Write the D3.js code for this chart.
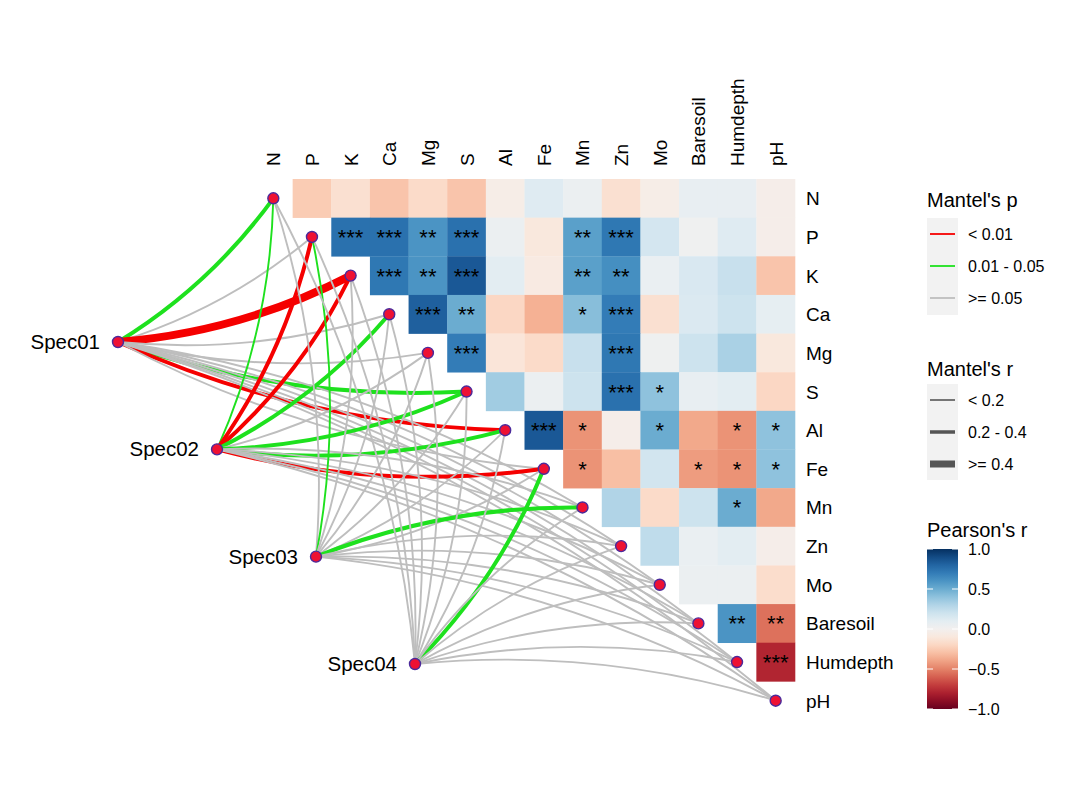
<!DOCTYPE html>
<html><head><meta charset="utf-8">
<script src="https://cdn.jsdelivr.net/npm/d3@7"></script>
<style>
body{margin:0;background:#fff}
text{font-family:Arial,"Liberation Sans",Helvetica,sans-serif;fill:#000}
</style>
</head><body>
<svg id="c" width="1067" height="800"></svg>
<script>
// ---------------- data ----------------
const envNames = ["N","P","K","Ca","Mg","S","Al","Fe","Mn","Zn","Mo","Baresoil","Humdepth","pH"];
// Pearson's r, upper triangle: row i holds values for columns i+1 .. end
const corrN  = [-0.25,-0.15,-0.28,-0.18,-0.28,-0.05,0.12,0.05,-0.15,-0.05,0.07,0.07,-0.04];
const corrP  = [0.75,0.75,0.6,0.75,0.05,-0.1,0.55,0.72,0.17,0.02,0.12,-0.04];
const corrK  = [0.72,0.6,0.85,0.1,-0.08,0.55,0.62,0.06,0.15,0.22,-0.28];
const corrCa = [0.82,0.5,-0.2,-0.35,0.42,0.7,-0.15,0.14,0.2,0.08];
const corrMg = [0.7,-0.12,-0.18,0.22,0.72,0.03,0.2,0.32,-0.1];
const corrS  = [0.35,0.05,0.2,0.75,0.4,0.07,0.1,-0.2];
const corrAl = [0.85,-0.45,-0.04,0.5,-0.38,-0.45,0.4];
const corrFe = [-0.45,-0.3,0.18,-0.42,-0.45,0.4];
const corrMn = [0.3,-0.18,0.2,0.5,-0.38];
const corrZn = [0.25,0.06,0.1,-0.04];
const corrMo = [0.05,0.05,-0.17];
const corrBaresoil = [0.6,-0.55];
const corrHumdepth = [-0.78];
const corrRows = [corrN,corrP,corrK,corrCa,corrMg,corrS,corrAl,corrFe,corrMn,corrZn,corrMo,corrBaresoil,corrHumdepth,[]];
// significance marks, same layout
const starsN  = ["","","","","","","","","","","","",""];
const starsP  = ["***","***","**","***","","","**","***","","","",""];
const starsK  = ["***","**","***","","","**","**","","","",""];
const starsCa = ["***","**","","","*","***","","","",""];
const starsMg = ["***","","","","***","","","",""];
const starsS  = ["","","","***","*","","",""];
const starsAl = ["***","*","","*","","*","*"];
const starsFe = ["*","","","*","*","*"];
const starsMn = ["","","","*",""];
const starsZn = ["","","",""];
const starsMo = ["","",""];
const starsBaresoil = ["**","**"];
const starsHumdepth = ["***"];
const starRows = [starsN,starsP,starsK,starsCa,starsMg,starsS,starsAl,starsFe,starsMn,starsZn,starsMo,starsBaresoil,starsHumdepth,[]];

const specNames = ["Spec01","Spec02","Spec03","Spec04"];
// Mantel's r and p for each spec against envNames
const mantelR01 = [0.25,0.12,0.55,0.10,0.08,0.28,0.30,0.15,0.10,0.05,0.06,0.12,0.09,0.04];
const mantelR02 = [0.15,0.30,0.32,0.26,0.10,0.27,0.25,0.30,0.10,0.08,0.05,0.12,0.10,0.06];
const mantelR03 = [0.05,0.16,0.07,0.10,0.09,0.12,0.06,0.10,0.24,0.08,0.05,0.10,0.04,0.07];
const mantelR04 = [0.06,0.08,0.05,0.10,0.07,0.09,0.11,0.26,0.12,0.06,0.08,0.10,0.05,0.09];
const mantelP01 = [0.03,0.20,0.001,0.30,0.40,0.02,0.005,0.10,0.30,0.50,0.40,0.20,0.30,0.60];
const mantelP02 = [0.04,0.003,0.002,0.02,0.20,0.03,0.02,0.004,0.30,0.40,0.50,0.20,0.30,0.50];
const mantelP03 = [0.50,0.04,0.60,0.30,0.40,0.20,0.50,0.30,0.02,0.40,0.60,0.30,0.70,0.40];
const mantelP04 = [0.50,0.40,0.60,0.30,0.50,0.40,0.30,0.03,0.20,0.50,0.40,0.30,0.60,0.30];
const mantelR = [mantelR01,mantelR02,mantelR03,mantelR04];
const mantelP = [mantelP01,mantelP02,mantelP03,mantelP04];

const pBreaks = [0.01,0.05];
const pLabels = ["< 0.01","0.01 - 0.05",">= 0.05"];
const rBreaks = [0.2,0.4];
const rLabels = ["< 0.2","0.2 - 0.4",">= 0.4"];
const colorTicks = [1.0,0.5,0.0,-0.5,-1.0];

// ---------------- scales ----------------
const svg = d3.select("#c");
const x = d3.scaleBand().domain(envNames).range([254,795]);
const y = d3.scaleBand().domain(envNames).range([179,720]);
const bw = x.bandwidth();
const fill = v => d3.interpolateRdBu((v+1)/2);
const pColor = d3.scaleThreshold().domain(pBreaks).range(["#F50000","#1EE11E","#BEBEBE"]);
const rWidth = d3.scaleThreshold().domain(rBreaks).range([1.9,4,8]);
const specX = d3.scaleLinear().domain([0,specNames.length-1]).range([118,415]);
const specY = d3.scaleLinear().domain([0,specNames.length-1]).range([342,664]);

// ---------------- heatmap ----------------
const cells = [];
corrRows.forEach((row,i)=>row.forEach((v,k)=>{
  const j=i+1+k; cells.push({r:envNames[i],c:envNames[j],v,s:starRows[i][k]});
}));
const gH = svg.append("g");
gH.selectAll("rect").data(cells).join("rect")
  .attr("x",d=>x(d.c)).attr("y",d=>y(d.r))
  .attr("width",bw+0.3).attr("height",bw+0.3)
  .attr("fill",d=>fill(d.v));
gH.selectAll("text").data(cells.filter(d=>d.s)).join("text")
  .attr("x",d=>x(d.c)+bw/2).attr("y",d=>y(d.r)+bw/2+8)
  .attr("text-anchor","middle").style("font-size","22px")
  .text(d=>d.s);

// axis labels
svg.append("g").selectAll("text").data(envNames).join("text")
  .attr("transform",d=>`translate(${x(d)+bw/2+7},166) rotate(-90)`)
  .style("font-size","19px").text(d=>d);
svg.append("g").selectAll("text").data(envNames).join("text")
  .attr("x",806).attr("y",d=>y(d)+bw/2+7)
  .style("font-size","19px").text(d=>d);

// ---------------- links ----------------
const midSpecY = (specY(0)+specY(specNames.length-1))/2;
const links=[];
specNames.forEach((s,si)=>envNames.forEach((e,ei)=>{
  links.push({x1:specX(si),y1:specY(si),x2:x(e)+bw/2,y2:y(e)+bw/2,r:mantelR[si][ei],p:mantelP[si][ei]});
}));
function curve(d){
  const dx=d.x2-d.x1, dy=d.y2-d.y1;
  const s = d.y2 < midSpecY ? 1 : -1;
  const cx=(d.x1+d.x2)/2 + s*0.1*(-dy), cy=(d.y1+d.y2)/2 + s*0.1*dx;
  return `M${d.x1},${d.y1}Q${cx},${cy} ${d.x2},${d.y2}`;
}
svg.append("g").selectAll("path").data(links).join("path")
  .attr("d",curve).attr("fill","none")
  .attr("stroke",d=>pColor(d.p)).attr("stroke-width",d=>rWidth(d.r));

// nodes
const nodeStyle = sel => sel.attr("r",5.5).attr("fill","#EE1133").attr("stroke","#4B2A9B").attr("stroke-width",1.4);
svg.append("g").selectAll("circle").data(envNames).join("circle")
  .attr("cx",d=>x(d)+bw/2).attr("cy",d=>y(d)+bw/2).call(nodeStyle);
svg.append("g").selectAll("circle").data(specNames).join("circle")
  .attr("cx",(d,i)=>specX(i)).attr("cy",(d,i)=>specY(i)).call(nodeStyle);
svg.append("g").selectAll("text").data(specNames).join("text")
  .attr("x",(d,i)=>specX(i)-18).attr("y",(d,i)=>specY(i)+7)
  .attr("text-anchor","end").style("font-size","20.5px").text(d=>d);

// ---------------- legends ----------------
const lx=927;
const lg = svg.append("g");
lg.append("text").attr("x",lx).attr("y",207).style("font-size","20px").text("Mantel's p");
lg.append("rect").attr("x",lx).attr("y",218).attr("width",31).attr("height",97).attr("fill","#F2F2F2");
pLabels.forEach((t,i)=>{
  const yy=234+i*32;
  lg.append("line").attr("x1",lx+3).attr("x2",lx+28).attr("y1",yy).attr("y2",yy)
    .attr("stroke",pColor.range()[i]).attr("stroke-width",1.8);
  lg.append("text").attr("x",968).attr("y",yy+5.5).style("font-size","16px").text(t);
});
lg.append("text").attr("x",lx).attr("y",376).style("font-size","20px").text("Mantel's r");
lg.append("rect").attr("x",lx).attr("y",384).attr("width",31).attr("height",96).attr("fill","#F2F2F2");
rLabels.forEach((t,i)=>{
  const yy=400+i*32;
  lg.append("line").attr("x1",lx+3).attr("x2",lx+28).attr("y1",yy).attr("y2",yy)
    .attr("stroke","#555").attr("stroke-width",[1.6,3.5,7][i]);
  lg.append("text").attr("x",968).attr("y",yy+5.5).style("font-size","16px").text(t);
});
lg.append("text").attr("x",lx).attr("y",537).style("font-size","20px").text("Pearson's r");
const cb = d3.scaleLinear().domain([1,-1]).range([549,709]);
const grad = svg.append("defs").append("linearGradient").attr("id","g1")
  .attr("x1",0).attr("y1",0).attr("x2",0).attr("y2",1);
d3.range(0,1.0001,0.05).forEach(t=>{
  grad.append("stop").attr("offset",t).attr("stop-color",fill(1-2*t));
});
lg.append("rect").attr("x",lx).attr("y",cb(1)).attr("width",31).attr("height",cb(-1)-cb(1)).attr("fill","url(#g1)");
colorTicks.forEach(v=>{
  lg.append("line").attr("x1",lx).attr("x2",lx+6).attr("y1",cb(v)).attr("y2",cb(v)).attr("stroke","#fff").attr("stroke-width",1);
  lg.append("line").attr("x1",lx+25).attr("x2",lx+31).attr("y1",cb(v)).attr("y2",cb(v)).attr("stroke","#fff").attr("stroke-width",1);
  lg.append("text").attr("x",968).attr("y",cb(v)+6).style("font-size","16px").text(d3.format(".1f")(v));
});
</script>
</body></html>
